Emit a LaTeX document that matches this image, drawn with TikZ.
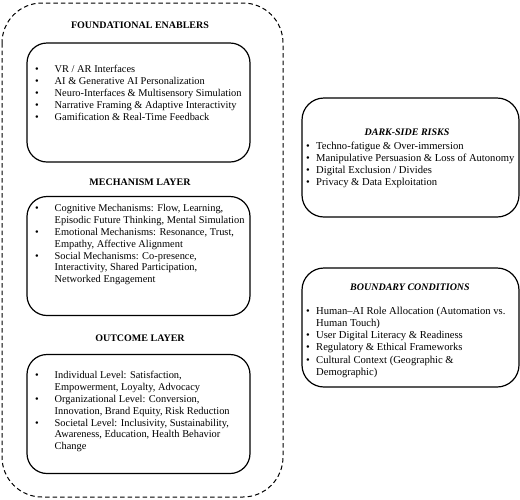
\documentclass[tikz,border=0pt]{standalone}
\usepackage{fontspec}
\setmainfont{Liberation Serif}
\begin{document}
\begin{tikzpicture}[x=1pt,y=-1pt,
  outerbox/.style={draw,line width=1pt,dash pattern=on 4.5pt off 3pt,rounded corners=40pt},
  layerbox/.style={draw,line width=1.2pt,rounded corners=20pt,minimum width=223pt,minimum height=119pt,inner sep=0pt},
  sidebox/.style={draw,line width=1.2pt,rounded corners=22pt,minimum width=217pt,minimum height=119pt,inner sep=0pt},
  layertitle/.style={font=\fontsize{10}{12}\selectfont\bfseries,inner sep=0pt},
  sidetitle/.style={font=\fontsize{10}{12}\selectfont\bfseries\itshape,inner sep=0pt},
  leftlist/.style={anchor=north west,inner sep=0pt,align=left,font=\fontsize{10.4}{11.8}\selectfont},
  rightlist/.style={anchor=north west,inner sep=0pt,align=left,font=\fontsize{10.6}{12.2}\selectfont}
]
\useasboundingbox (0,0) rectangle (520,499);
% outer dashed frame
\draw[outerbox] (2,3) rectangle (283,497);
% left column
\node[layertitle] (t1) at (140,25) {FOUNDATIONAL ENABLERS};
\node[layerbox] (b1) at (138.5,102.5) {};
\node[leftlist] (l1) at (35,64.5) {\begin{tabular}{@{}p{19.5pt}@{}l@{}}
\textbullet & VR / AR Interfaces\\
\textbullet & AI \& Generative AI Personalization\\
\textbullet & Neuro-Interfaces \& Multisensory Simulation\\
\textbullet & Narrative Framing \& Adaptive Interactivity\\
\textbullet & Gamification \& Real-Time Feedback
\end{tabular}};
\node[layertitle] (t2) at (140,182) {MECHANISM LAYER};
\node[layerbox] (b2) at (138.5,256) {};
\node[leftlist] (l2) at (35,203.5) {\begin{tabular}{@{}p{19.5pt}@{}l@{}}
\textbullet & Cognitive Mechanisms: Flow, Learning,\\
 & Episodic Future Thinking, Mental Simulation\\
\textbullet & Emotional Mechanisms: Resonance, Trust,\\
 & Empathy, Affective Alignment\\
\textbullet & Social Mechanisms: Co-presence,\\
 & Interactivity, Shared Participation,\\
 & Networked Engagement
\end{tabular}};
\node[layertitle] (t3) at (140,338) {OUTCOME LAYER};
\node[layerbox] (b3) at (138.5,414) {};
\node[leftlist] (l3) at (35,370.5) {\begin{tabular}{@{}p{19.5pt}@{}l@{}}
\textbullet & Individual Level: Satisfaction,\\
 & Empowerment, Loyalty, Advocacy\\
\textbullet & Organizational Level: Conversion,\\
 & Innovation, Brand Equity, Risk Reduction\\
\textbullet & Societal Level: Inclusivity, Sustainability,\\
 & Awareness, Education, Health Behavior\\
 & Change
\end{tabular}};
% right column
\node[sidebox] (b4) at (410.5,157.5) {};
\node[sidetitle] (t4) at (407,132) {DARK-SIDE RISKS};
\node[rightlist] (l4) at (306,140.5) {\begin{tabular}{@{}p{10pt}@{}l@{}}
\textbullet & Techno-fatigue \& Over-immersion\\
\textbullet & Manipulative Persuasion \& Loss of Autonomy\\
\textbullet & Digital Exclusion / Divides\\
\textbullet & Privacy \& Data Exploitation
\end{tabular}};
\node[sidebox] (b5) at (410.5,327.5) {};
\node[sidetitle] (t5) at (410,287) {BOUNDARY CONDITIONS};
\node[rightlist] (l5) at (306,305.5) {\begin{tabular}{@{}p{10pt}@{}l@{}}
\textbullet & Human–AI Role Allocation (Automation vs.\\
 & Human Touch)\\
\textbullet & User Digital Literacy \& Readiness\\
\textbullet & Regulatory \& Ethical Frameworks\\
\textbullet & Cultural Context (Geographic \&\\
 & Demographic)
\end{tabular}};
\end{tikzpicture}
\end{document}
